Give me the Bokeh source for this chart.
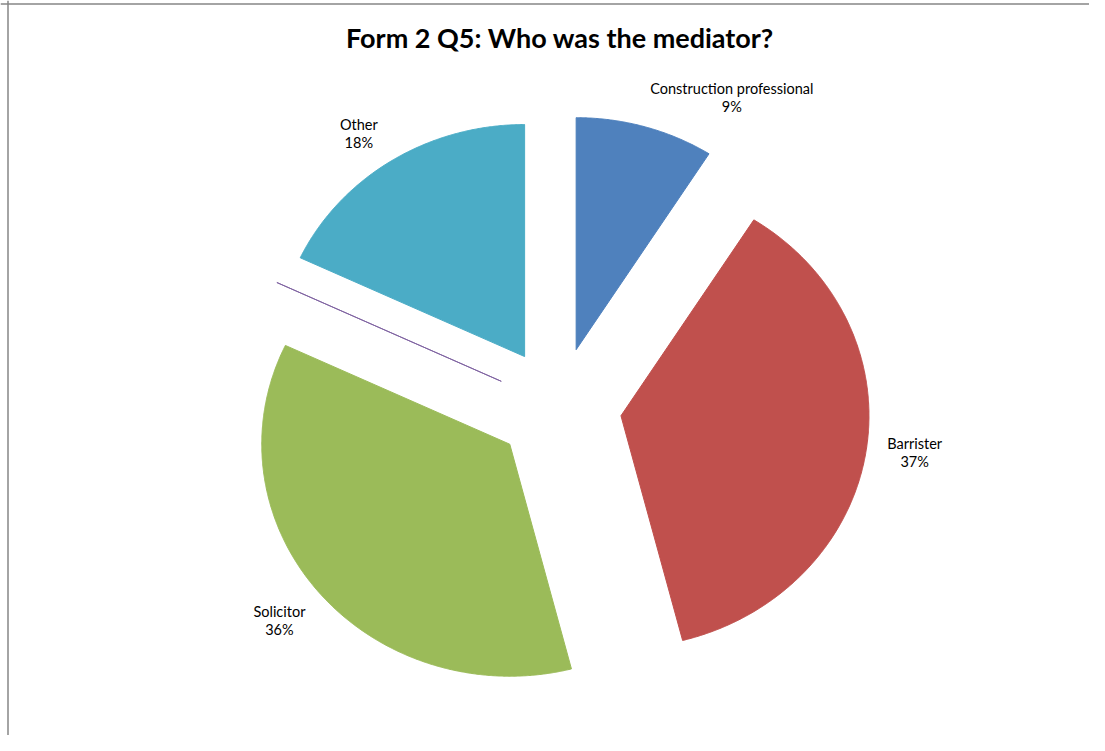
import numpy as np
from bokeh.plotting import figure
from bokeh.models import Range1d, Span, Label, ColumnDataSource
from bokeh.embed import file_html
from bokeh.resources import INLINE

# ---- data ----
categories = ["Construction professional", "Barrister", "Solicitor", "", "Other"]
values = [9, 37, 36, 0, 18]
colors = ["#4F81BD", "#C0504D", "#9BBB59", "#8064A2", "#4BACC6"]
title_text = "Form 2 Q5: Who was the mediator?"

# ---- layout constants ----
W, H = 1089, 735
CX, CY = 558, 406          # pie centre (px)
RX, RY = 248, 232          # pie radii (px)
EXPLODE = 0.255            # explosion in radius units
LABEL_R = 1.45
# label nudges in px (screen, y down)
label_dx = [73, 1, -2, 0, -7]
label_dy = [14, -7, 0, 0, 11]

x0 = -CX / RX
x1 = (W - CX) / RX
ytop = CY / RY
ybot = (CY - H) / RY

p = figure(width=W, height=H, output_backend="svg", toolbar_location=None,
           x_range=Range1d(x0, x1), y_range=Range1d(ybot, ytop),
           min_border=0, outline_line_color=None)
p.axis.visible = False
p.grid.visible = False
p.background_fill_color = "white"
p.border_fill_color = "white"

total = float(sum(values))
fr = np.array(values, dtype=float) / total
cum = np.concatenate([[0.0], np.cumsum(fr)])

xs, ys = [], []
lx, ly, names, pcts, ldx, ldy = [], [], [], [], [], []
for i, v in enumerate(values):
    a0 = 2 * np.pi * cum[i]
    a1 = 2 * np.pi * cum[i + 1]
    am = 0.5 * (a0 + a1)
    ox, oy = EXPLODE * np.sin(am), EXPLODE * np.cos(am)
    t = np.linspace(a0, a1, max(2, int(200 * (a1 - a0)) + 2))
    px = np.concatenate([[ox], ox + np.sin(t), [ox]])
    py = np.concatenate([[oy], oy + np.cos(t), [oy]])
    xs.append(list(px))
    ys.append(list(py))
    if v > 0:
        lx.append(LABEL_R * np.sin(am))
        ly.append(LABEL_R * np.cos(am))
        names.append(categories[i])
        pcts.append(f"{round(100 * v / total)}%")
        ldx.append(label_dx[i])
        ldy.append(label_dy[i])

src = ColumnDataSource(dict(xs=xs, ys=ys, color=colors))
p.patches("xs", "ys", source=src, fill_color="color", line_color="color", line_width=1)

lsrc = ColumnDataSource(dict(x=lx, y=ly, name=names, pct=pcts,
                             dx=ldx, dy1=[d - 9 for d in ldy], dy2=[d + 9 for d in ldy]))
p.text("x", "y", text="name", source=lsrc, x_offset="dx", y_offset="dy1",
       text_align="center", text_baseline="middle", text_font_size="14.5px",
       text_font={"value": "Lato"}, text_color="#000000")
p.text("x", "y", text="pct", source=lsrc, x_offset="dx", y_offset="dy2",
       text_align="center", text_baseline="middle", text_font_size="14.5px",
       text_font={"value": "Lato"}, text_color="#000000")

p.add_layout(Label(x=(559.5 - CX) / RX, y=(CY - 37) / RY, text=title_text,
                   text_align="center", text_baseline="middle",
                   text_font="Lato", text_font_style="bold", text_font_size="27px",
                   text_color="#000000"))

# chart-area border (left and top visible)
p.add_layout(Span(location=(7.5 - CX) / RX, dimension="height", line_color="#868686", line_width=1.5))
p.add_layout(Span(location=(CY - 3.5) / RY, dimension="width", line_color="#868686", line_width=1.5))

open("out.html", "w").write(file_html(p, INLINE))
